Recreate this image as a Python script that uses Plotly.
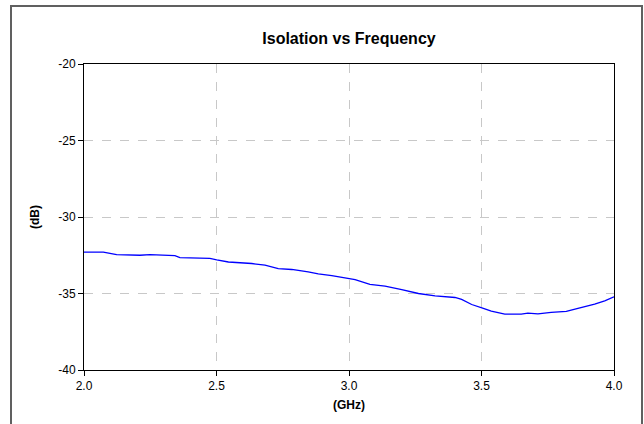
import plotly.graph_objects as go

freq_ghz = [2.000, 2.073, 2.123, 2.211, 2.249, 2.343, 2.362, 2.475, 2.501, 2.545,
            2.633, 2.683, 2.733, 2.784, 2.846, 2.884, 2.935, 2.985, 3.023, 3.079,
            3.136, 3.199, 3.262, 3.325, 3.400, 3.425, 3.463, 3.507, 3.537, 3.588,
            3.650, 3.675, 3.713, 3.763, 3.820, 3.864, 3.927, 3.965, 4.000]
isolation_db = [-32.29, -32.29, -32.46, -32.50, -32.46, -32.52, -32.65, -32.70, -32.80, -32.94,
                -33.04, -33.15, -33.37, -33.43, -33.59, -33.72, -33.83, -33.98, -34.10, -34.41,
                -34.52, -34.74, -35.00, -35.15, -35.26, -35.39, -35.72, -35.98, -36.15, -36.35,
                -36.35, -36.28, -36.33, -36.24, -36.17, -35.98, -35.70, -35.48, -35.22]

x_ticks = [2.0, 2.5, 3.0, 3.5, 4.0]
x_tick_labels = ["2.0", "2.5", "3.0", "3.5", "4.0"]
y_ticks = [-40, -35, -30, -25, -20]
y_tick_labels = ["-40", "-35", "-30", "-25", "-20"]

FONT = "Liberation Sans, Arial, sans-serif"

fig = go.Figure()
fig.add_trace(go.Scatter(x=freq_ghz, y=isolation_db, mode="lines",
                         line=dict(color="#0000ff", width=1.3), showlegend=False))

axis_common = dict(
    showline=True, linecolor="black", linewidth=1, mirror=True,
    ticks="outside", ticklen=5, tickcolor="black", tickwidth=1,
    showgrid=True, gridcolor="#c8c8c8", gridwidth=1, griddash="dash",
    zeroline=False, tickfont=dict(family=FONT, size=12, color="black"),
)

fig.update_xaxes(range=[2.0, 4.0], tickvals=x_ticks, ticktext=x_tick_labels,
                 title=dict(text="<b>(GHz)</b>", font=dict(family=FONT, size=12, color="black"),
                            standoff=8),
                 **axis_common)
fig.update_yaxes(range=[-40, -20], tickvals=y_ticks, ticktext=y_tick_labels,
                 title=dict(text="<b>(dB)</b>", font=dict(family=FONT, size=12, color="black"),
                            standoff=16),
                 **axis_common)

fig.update_layout(
    width=644, height=424,
    margin=dict(l=84, r=30, t=64, b=54),
    paper_bgcolor="white", plot_bgcolor="white",
    title=dict(text="<b>Isolation vs Frequency</b>", x=(84 + 614) / 2 / 644, xanchor="center",
               y=1 - 38 / 424, yanchor="middle",
               font=dict(family=FONT, size=16, color="black")),
    shapes=[dict(type="rect", xref="paper", yref="paper",
                 x0=(11 - 84) / 530, x1=(642 - 84) / 530,
                 y0=-0.3, y1=(370 - 6) / 306,
                 line=dict(color="#606060", width=2), layer="below")],
)

fig.write_html("out.html", config={"displayModeBar": False},
               post_script="document.body.style.margin='0';document.body.style.overflow='hidden';")
